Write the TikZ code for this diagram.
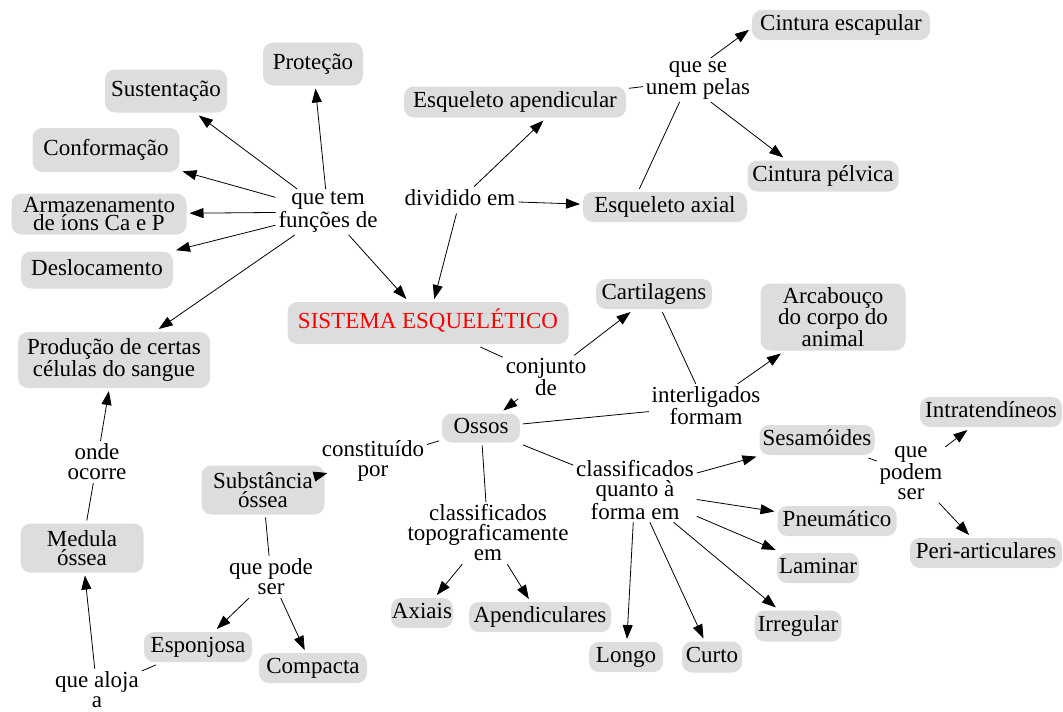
\documentclass[tikz,border=0pt]{standalone}
\usepackage{fontspec}
\setmainfont{Liberation Serif}
\usetikzlibrary{arrows.meta}
\definecolor{boxgray}{RGB}{220,221,223}
\definecolor{titlered}{RGB}{255,0,0}
\begin{document}
\begin{tikzpicture}[x=1pt,y=-1pt,
  box/.style={fill=boxgray, rounded corners=10pt, inner sep=1pt, align=center,
    font=\fontsize{23}{20}\selectfont, outer sep=3pt},
  one/.style={text height=16pt, text depth=5pt},
  phr/.style={inner sep=1pt, align=center, font=\fontsize{23}{20}\selectfont, outer sep=2pt},
  arr/.style={-{Triangle[length=14pt,width=10pt]}, line width=0.8pt},
  ln/.style={line width=0.8pt}]
\useasboundingbox (0,0) rectangle (1063,712);

% boxes
\node[box, one, minimum width=100, minimum height=43] (prot) at (313,64) {Proteção};
\node[box, one, minimum width=122, minimum height=43] (sust) at (166,91) {Sustentação};
\node[box, one, minimum width=147, minimum height=44] (conf) at (106,150) {Conformação};
\node[box, minimum width=175, minimum height=41, font=\fontsize{23}{18}\selectfont] (arm) at (99,214) {Armazenamento\\de íons Ca e P};
\node[box, one, minimum width=152, minimum height=37] (desl) at (97,270) {Deslocamento};
\node[box, minimum width=192, minimum height=56] (prod) at (114,360) {Produção de certas\\células do sangue};
\node[box, minimum width=123, minimum height=49, font=\fontsize{23}{19}\selectfont] (med) at (82,548) {Medula\\óssea};
\node[box, minimum width=123, minimum height=49, font=\fontsize{23}{19}\selectfont] (subs) at (263,490) {Substância\\óssea};
\node[box, one, minimum width=108, minimum height=30] (espo) at (198,647) {Esponjosa};
\node[box, one, minimum width=108, minimum height=30] (comp) at (313,668) {Compacta};
\node[box, one, minimum width=281, minimum height=42, text=titlered] (sis) at (428,323) {SISTEMA ESQUELÉTICO};
\node[box, one, minimum width=222, minimum height=31] (esqap) at (515,102) {Esqueleto apendicular};
\node[box, one, minimum width=164, minimum height=30] (esqax) at (665,207) {Esqueleto axial};
\node[box, one, minimum width=178, minimum height=30] (cesc) at (841,25) {Cintura escapular};
\node[box, one, minimum width=151, minimum height=31] (cpel) at (823,176) {Cintura pélvica};
\node[box, one, minimum width=116, minimum height=30] (cart) at (654,294) {Cartilagens};
\node[box, minimum width=145, minimum height=67] (arca) at (833,317) {Arcabouço\\do corpo do\\animal};
\node[box, one, minimum width=78, minimum height=29] (ossos) at (481,428) {Ossos};
\node[box, one, minimum width=61, minimum height=30] (axi) at (422,613) {Axiais};
\node[box, one, minimum width=142, minimum height=30] (apen) at (540,617) {Apendiculares};
\node[box, one, minimum width=74, minimum height=30] (longo) at (626,657) {Longo};
\node[box, one, minimum width=60, minimum height=31] (curto) at (712,657) {Curto};
\node[box, one, minimum width=87, minimum height=31] (irreg) at (798,626) {Irregular};
\node[box, one, minimum width=82, minimum height=30] (lamin) at (818,568) {Laminar};
\node[box, one, minimum width=119, minimum height=30] (pneu) at (837,521) {Pneumático};
\node[box, one, minimum width=115, minimum height=30] (sesa) at (817,440) {Sesamóides};
\node[box, one, minimum width=142, minimum height=30] (intra) at (991,412) {Intratendíneos};
\node[box, one, minimum width=152, minimum height=30] (peri) at (986,553) {Peri-articulares};

% linking phrases
\node[phr] (ptem) at (328,212) {que tem\\funções de};
\node[phr, one] (pdiv) at (460,200) {dividido em};
\node[phr] (puni) at (698,80) {que se\\unem pelas};
\node[phr] (pconj) at (546,377) {conjunto\\de};
\node[phr] (pint) at (706,406) {interligados\\formam};
\node[phr] (pconst) at (373,461) {constituído\\por};
\node[phr] (ptopo) at (488,533) {classificados\\topograficamente\\em};
\node[phr] (pforma) at (635,490) {classificados\\quanto à\\forma em};
\node[phr] (ppodem) at (911,473) {que\\podem\\ser};
\node[phr] (ppode) at (271,577) {que pode\\ser};
\node[phr] (paloja) at (97,690) {que aloja\\a};
\node[phr] (ponde) at (97,462) {onde\\ocorre};

% connectors
\foreach \t in {prot,sust,conf,arm,desl,prod,sis} \draw[arr] (ptem) -- (\t);
\draw[arr] (pdiv) -- (sis);
\draw[arr] (pdiv) -- (esqap.-33);
\draw[arr] (pdiv) -- (esqax);
\draw[ln] (esqap) -- (puni);
\draw[ln] (esqax.145) -- (puni.-130);
\draw[arr] (puni.60) -- (cesc.183);
\draw[arr] (puni.-60) -- (cpel.155);
\draw[ln] (sis) -- (pconj);
\foreach \t in {ossos,cart} \draw[arr] (pconj) -- (\t);
\draw[ln] (cart) -- (pint);
\draw[ln] (ossos) -- (pint);
\draw[arr] (pint) -- (arca);
\draw[ln] (ossos) -- (pconst);
\draw[arr] (pconst) -- (subs);
\draw[ln] (ossos) -- (ptopo);
\foreach \t in {axi,apen} \draw[arr] (ptopo) -- (\t);
\draw[ln] (ossos) -- (pforma);
\foreach \t in {sesa,pneu,lamin,irreg,curto,longo} \draw[arr] (pforma) -- (\t);
\draw[ln] (sesa) -- (ppodem);
\foreach \t in {intra,peri} \draw[arr] (ppodem) -- (\t);
\draw[ln] (subs) -- (ppode);
\foreach \t in {espo,comp} \draw[arr] (ppode) -- (\t);
\draw[ln] (espo) -- (paloja);
\draw[arr] (paloja) -- (med);
\draw[ln] (med) -- (ponde);
\draw[arr] (ponde) -- (prod);
\end{tikzpicture}
\end{document}
